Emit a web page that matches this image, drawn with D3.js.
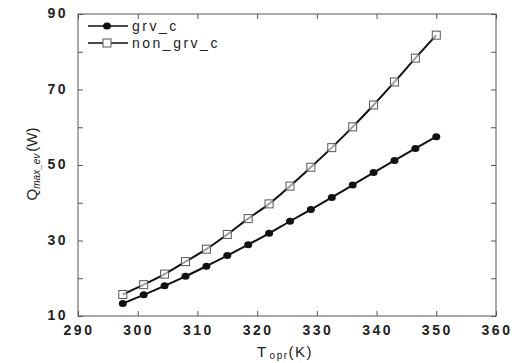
<!DOCTYPE html>
<html><head><meta charset="utf-8">
<script src="https://cdn.jsdelivr.net/npm/d3@7"></script>
<style>
html,body{margin:0;padding:0;background:#fff;}
svg{display:block;font-family:"Liberation Sans",Arial,sans-serif;}
</style></head>
<body><svg id="c" width="521" height="363"></svg>
<script>
const temps = [297.5,301,304.5,308,311.5,315,318.5,322,325.5,329,332.5,336,339.5,343,346.5,350];
const grvC = [13.3,15.6,18.0,20.5,23.2,26.0,28.9,31.9,35.1,38.2,41.4,44.7,48.0,51.2,54.4,57.5];
const nonGrvC = [15.7,18.3,21.1,24.4,27.7,31.6,35.8,39.7,44.4,49.4,54.6,60.1,65.9,72.0,78.3,84.4];
const xTicks = [290,300,310,320,330,340,350,360];
const yTickLabels = [10,30,50,70,90];
const yTicksAll = [10,20,30,40,50,60,70,80,90];
const seriesNames = ["grv_c","non_grv_c"];

const svg = d3.select("#c");
const L=78,R=496,T=14,B=316;
const x = d3.scaleLinear().domain([290,360]).range([L,R]);
const y = d3.scaleLinear().domain([10,90]).range([B,T]);
const frame="#555";

// frame
svg.append("rect").attr("x",L).attr("y",T).attr("width",R-L).attr("height",B-T)
  .attr("fill","none").attr("stroke",frame).attr("stroke-width",1);

// axes with inward ticks
const gB = svg.append("g").attr("transform",`translate(0,${B})`)
  .call(d3.axisBottom(x).tickValues(xTicks).tickSizeInner(-5).tickSizeOuter(0).tickFormat(""));
const gT = svg.append("g").attr("transform",`translate(0,${T})`)
  .call(d3.axisTop(x).tickValues(xTicks).tickSizeInner(-5).tickSizeOuter(0).tickFormat(""));
const gL = svg.append("g").attr("transform",`translate(${L},0)`)
  .call(d3.axisLeft(y).tickValues(yTicksAll).tickSizeInner(-5).tickSizeOuter(0).tickFormat(""));
const gR = svg.append("g").attr("transform",`translate(${R},0)`)
  .call(d3.axisRight(y).tickValues(yTicksAll).tickSizeInner(-5).tickSizeOuter(0).tickFormat(""));
[gB,gT,gL,gR].forEach(g=>{g.select(".domain").remove(); g.selectAll("line").attr("stroke",frame);});

// tick labels
svg.append("g").selectAll("text").data(xTicks).join("text")
  .attr("x",d=>x(d)+1).attr("y",335).attr("text-anchor","middle")
  .attr("font-size",14).attr("font-weight","bold").attr("letter-spacing",2.5).attr("fill","#222")
  .text(d=>d);
svg.append("g").selectAll("text").data(yTickLabels).join("text")
  .attr("x",68).attr("y",d=>y(d)+4).attr("text-anchor","end")
  .attr("font-size",14).attr("font-weight","bold").attr("letter-spacing",2.5).attr("fill","#222")
  .text(d=>d);

// axis titles
const xt = svg.append("text").attr("x",285).attr("y",357).attr("text-anchor","middle")
  .attr("font-size",15).attr("fill","#222").attr("letter-spacing",1.5);
xt.append("tspan").text("T");
xt.append("tspan").attr("font-size",10).attr("dx",2).attr("dy",2).text("opr");
xt.append("tspan").attr("dy",-2).text("(K)");

const yt = svg.append("text").attr("transform","translate(37,164) rotate(-90)")
  .attr("text-anchor","middle").attr("font-size",15).attr("fill","#222");
yt.append("tspan").text("Q");
yt.append("tspan").attr("font-size",10).attr("font-style","italic").attr("dy",3).text("max_ev");
yt.append("tspan").attr("dy",-3).attr("dx",2).text("(W)");

// lines
const line = d3.line().x(d=>x(d[0])).y(d=>y(d[1])).curve(d3.curveCatmullRom);
const d1 = temps.map((t,i)=>[t,grvC[i]]);
const d2 = temps.map((t,i)=>[t,nonGrvC[i]]);
svg.append("path").attr("d",line(d1)).attr("fill","none").attr("stroke","#111").attr("stroke-width",2);
svg.append("path").attr("d",line(d2)).attr("fill","none").attr("stroke","#111").attr("stroke-width",2);

svg.append("g").selectAll("ellipse").data(d1).join("ellipse")
  .attr("cx",d=>x(d[0])).attr("cy",d=>y(d[1])).attr("rx",4).attr("ry",3.5).attr("fill","#111");
svg.append("g").selectAll("rect").data(d2).join("rect")
  .attr("x",d=>x(d[0])-4).attr("y",d=>y(d[1])-4).attr("width",8).attr("height",8)
  .attr("fill","#fff").attr("fill-opacity",0.6).attr("stroke","#555").attr("stroke-width",1);

// legend
const lg = svg.append("g");
[0,1].forEach(i=>{
  const ly = 26 + i*17;
  lg.append("line").attr("x1",88).attr("x2",128).attr("y1",ly).attr("y2",ly).attr("stroke","#111").attr("stroke-width",1.5);
  if(i===0) lg.append("ellipse").attr("cx",107).attr("cy",ly).attr("rx",4).attr("ry",3.5).attr("fill","#111");
  else lg.append("rect").attr("x",103).attr("y",ly-4).attr("width",8).attr("height",8).attr("fill","#fff").attr("stroke","#555");
  lg.append("text").attr("x",132).attr("y",ly+5).attr("font-size",14).attr("letter-spacing",2.5).attr("fill","#222").text(seriesNames[i]);
});
</script></body></html>
